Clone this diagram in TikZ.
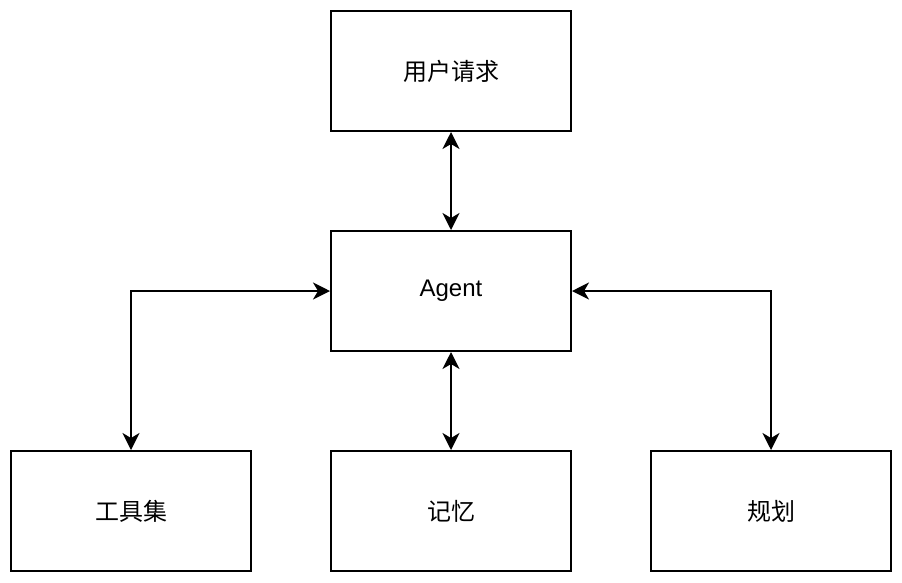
\documentclass[tikz,border=0pt]{standalone}
\usepackage{fontspec}
\setmainfont{Liberation Sans}
\newfontfamily\cjk{Noto Sans CJK SC}
\usetikzlibrary{arrows.meta}
\begin{document}
\begin{tikzpicture}[x=1pt,y=-1pt,
  box/.style={draw=black, line width=2pt, fill=white, minimum width=240pt, minimum height=120pt, inner sep=0pt, font=\fontsize{24}{29}\selectfont},
  link/.style={line width=2pt, {Stealth[length=17pt,width=17pt,inset=5pt]}-{Stealth[length=17pt,width=17pt,inset=5pt]}}]
\useasboundingbox[fill=white] (0,0) rectangle (902,582);
\node[box] (req) at (451,71) {\cjk 用户请求};
\node[box] (agent) at (451,291) {Agent};
\node[box] (tools) at (131,511) {\cjk 工具集};
\node[box] (mem) at (451,511) {\cjk 记忆};
\node[box] (plan) at (771,511) {\cjk 规划};
\draw[link] (req.south) -- (agent.north);
\draw[link] (agent.south) -- (mem.north);
\draw[link] (agent.west) -| (tools.north);
\draw[link] (agent.east) -| (plan.north);
\end{tikzpicture}
\end{document}
